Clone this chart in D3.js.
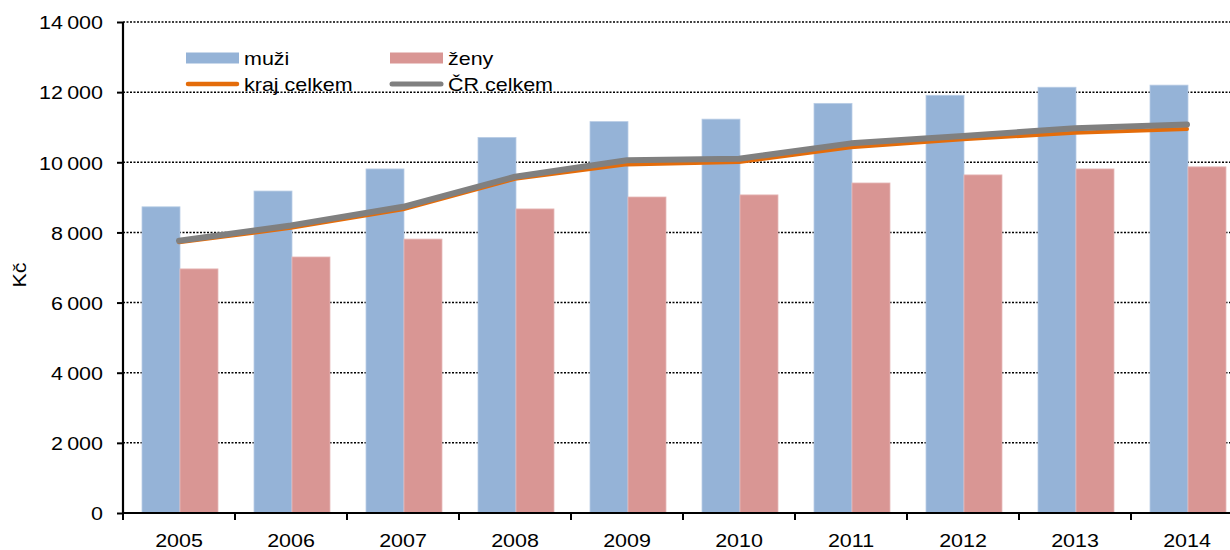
<!DOCTYPE html>
<html><head><meta charset="utf-8">
<script src="https://cdn.jsdelivr.net/npm/d3@7"></script>
<style>
body{margin:0;background:#fff;}
svg text{font-family:"Liberation Sans",Arial,sans-serif;fill:#000;}
</style></head>
<body><svg id="c" width="1230" height="550"></svg>
<script>
const years = ["2005","2006","2007","2008","2009","2010","2011","2012","2013","2014"];
const muzi  = [8730, 9180, 9810, 10710, 11160, 11230, 11680, 11910, 12140, 12200];
const zeny  = [6960, 7300, 7810, 8670, 9010, 9070, 9410, 9640, 9810, 9870];
const kraj  = [7720, 8130, 8660, 9530, 9940, 10010, 10430, 10660, 10840, 10950];
const cr    = [7760, 8200, 8730, 9590, 10060, 10100, 10540, 10750, 10970, 11080];
const yTicks = [0, 2000, 4000, 6000, 8000, 10000, 12000, 14000];
const yLabels = ["0","2\u2009000","4\u2009000","6\u2009000","8\u2009000","10\u2009000","12\u2009000","14\u2009000"];

const FS = 19, STRETCH = 1.13;
function stretch(sel){
  sel.each(function(){
    const l = this.getComputedTextLength();
    this.setAttribute("textLength", l * STRETCH);
    this.setAttribute("lengthAdjust", "spacingAndGlyphs");
  });
}

const svg = d3.select("#c");
const L = 123, R = 1243, T = 22, B = 513;
const x = d3.scaleBand().domain(years).range([L, R]).padding(0);
const y = d3.scaleLinear().domain([0, 14000]).range([B, T]);
const bw = 38;

// gridlines
svg.append("g").selectAll("line").data(yTicks.filter(d => d > 0)).join("line")
  .attr("x1", L).attr("x2", R).attr("y1", d => y(d)).attr("y2", d => y(d))
  .attr("stroke", "#000").attr("stroke-width", 1.5).attr("stroke-dasharray", "2,1.5");

// bars
const g = svg.append("g");
g.selectAll(".m").data(years).join("rect")
  .attr("x", d => x(d) + 19).attr("width", bw)
  .attr("y", (d, i) => y(muzi[i])).attr("height", (d, i) => B - y(muzi[i]))
  .attr("fill", "#95B3D7").attr("stroke", "#B9CDE5").attr("stroke-width", 0.8);
g.selectAll(".z").data(years).join("rect")
  .attr("x", d => x(d) + 19 + bw).attr("width", bw)
  .attr("y", (d, i) => y(zeny[i])).attr("height", (d, i) => B - y(zeny[i]))
  .attr("fill", "#D99694").attr("stroke", "#E6B9B8").attr("stroke-width", 0.8);

// lines
const cx = d => x(d) + x.bandwidth() / 2;
const line = arr => d3.line().x((d, i) => cx(years[i])).y(d => y(d))(arr);
svg.append("path").attr("d", line(kraj)).attr("fill", "none")
  .attr("stroke", "#E46C0A").attr("stroke-width", 4).attr("stroke-linecap", "round").attr("stroke-linejoin", "round");
svg.append("path").attr("d", line(cr)).attr("fill", "none")
  .attr("stroke", "#808080").attr("stroke-width", 6).attr("stroke-linecap", "round").attr("stroke-linejoin", "round");

// axes
const ya = d3.axisLeft(y).tickValues(yTicks).tickFormat((d, i) => yLabels[i]).tickSize(6);
const yg = svg.append("g").attr("transform", `translate(${L},0)`).call(ya);
yg.select(".domain").attr("stroke-width", 2.2).attr("d", `M0,${T}V${B}`);
yg.selectAll(".tick line").attr("stroke-width", 2);
yg.selectAll("text").attr("font-size", FS).attr("font-family", "Liberation Sans, Arial, sans-serif")
  .attr("dy", "0.36em").attr("x", -20).call(stretch);

const xa = d3.axisBottom(x).tickSize(0);
const xg = svg.append("g").attr("transform", `translate(0,${B})`).call(xa);
xg.select(".domain").attr("stroke-width", 2.2).attr("d", `M${L},0H${R}`);
xg.selectAll("text").attr("font-size", FS).attr("font-family", "Liberation Sans, Arial, sans-serif")
  .attr("y", 34).attr("dy", 0).call(stretch);
svg.append("g").selectAll("line").data(years).join("line")
  .attr("x1", d => x(d)).attr("x2", d => x(d)).attr("y1", B).attr("y2", B + 7)
  .attr("stroke", "#000").attr("stroke-width", 2);

// y title
svg.append("text").attr("transform", "translate(26,275) rotate(-90)")
  .attr("text-anchor", "middle").attr("font-size", FS).text("Kč").call(stretch);

// legend
const lg = svg.append("g");
const leg = [
  {t: "muži", type: "rect", c: "#95B3D7", x: 186, y: 58},
  {t: "ženy", type: "rect", c: "#D99694", x: 390, y: 58},
  {t: "kraj celkem", type: "line", c: "#E46C0A", w: 4.5, x: 186, y: 84},
  {t: "ČR celkem", type: "line", c: "#808080", w: 5, x: 390, y: 84}
];
leg.forEach(d => {
  if (d.type === "rect") lg.append("rect").attr("x", d.x).attr("y", d.y - 5.5).attr("width", 53).attr("height", 11).attr("fill", d.c);
  else lg.append("line").attr("x1", d.x + 2).attr("x2", d.x + 51).attr("y1", d.y).attr("y2", d.y)
    .attr("stroke", d.c).attr("stroke-width", d.w).attr("stroke-linecap", "round");
  lg.append("text").attr("x", d.x + 58).attr("y", d.y).attr("dy", "0.36em").attr("font-size", FS).text(d.t).call(stretch);
});
</script></body></html>
